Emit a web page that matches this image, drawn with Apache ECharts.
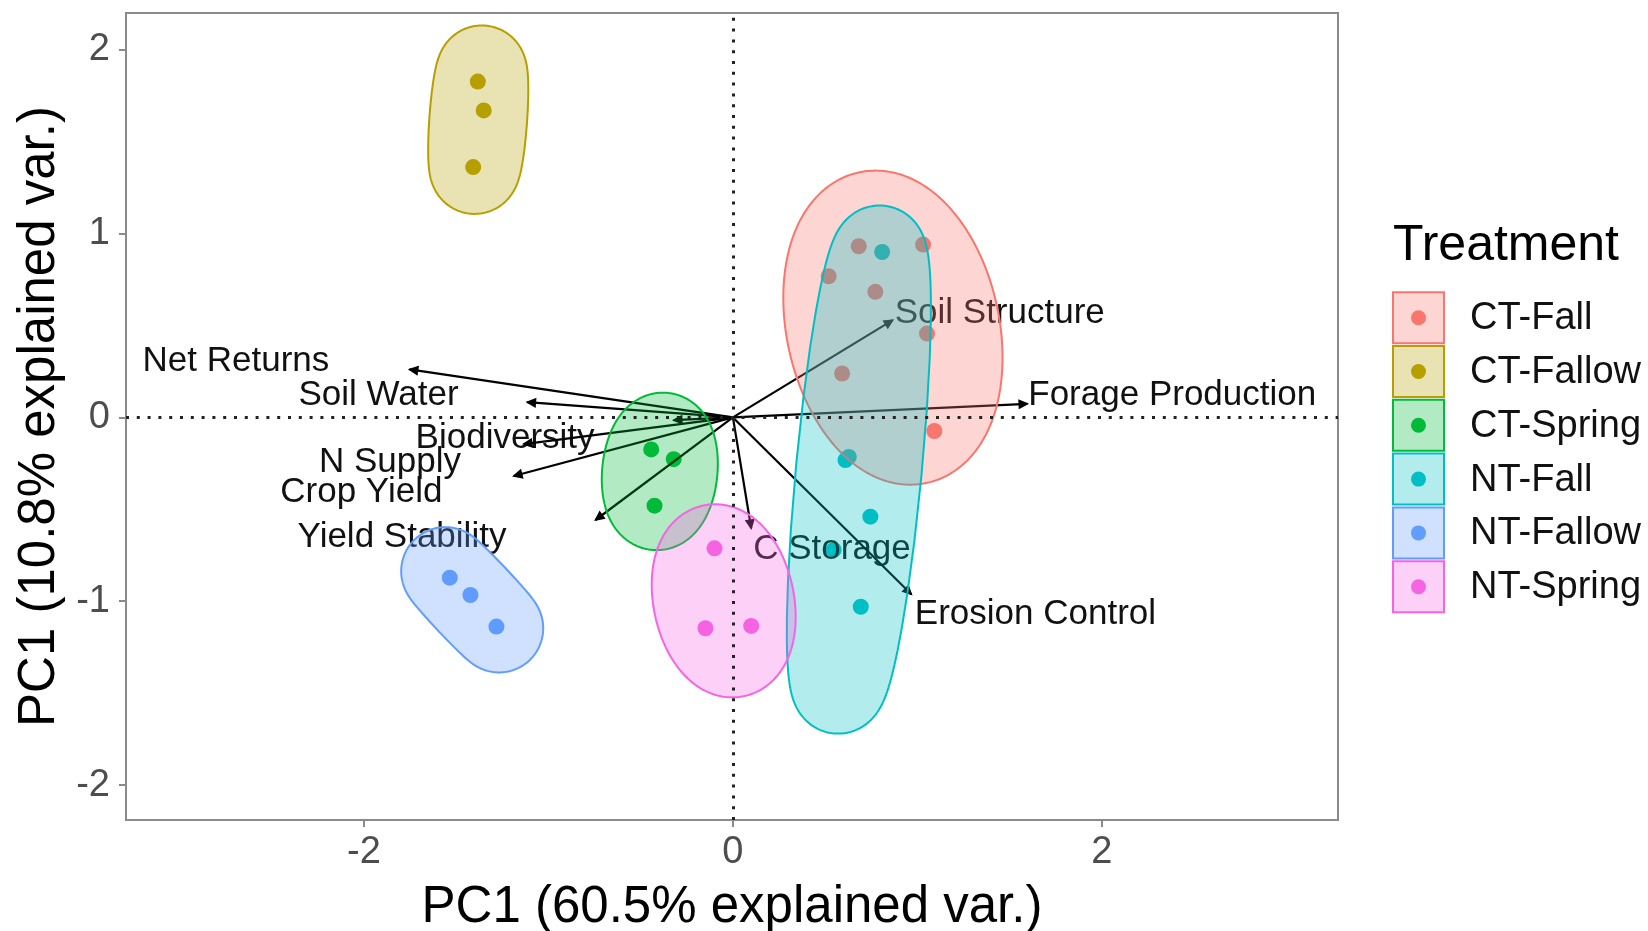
<!DOCTYPE html>
<html>
<head>
<meta charset="utf-8">
<script src="https://cdn.jsdelivr.net/npm/echarts@6/dist/echarts.min.js"></script>
<style>
  html, body { margin: 0; padding: 0; background: #ffffff; }
  #chart { width: 1648px; height: 931px; }
</style>
</head>
<body>
<div id="chart"></div>
<script>
// Treatments and their colours
const groups = ['CT-Fall', 'CT-Fallow', 'CT-Spring', 'NT-Fall', 'NT-Fallow', 'NT-Spring'];
const groupColors = ['#F8766D', '#B79F00', '#00BA38', '#00BFC4', '#619CFF', '#F564E3'];

// PCA scores (PC1, PC2) per treatment
const ctFall = [[0.682, 0.931], [1.031, 0.940], [0.519, 0.768], [0.772, 0.683], [1.052, 0.456], [0.592, 0.239], [1.092, -0.074]];
const ctFallow = [[-1.383, 1.827], [-1.351, 1.670], [-1.408, 1.362]];
const ctSpring = [[-0.443, -0.174], [-0.321, -0.227], [-0.425, -0.480]];
const ntFall = [[0.809, 0.900], [0.610, -0.232], [0.628, -0.215], [0.745, -0.540], [0.546, -0.721], [0.693, -1.030]];
const ntFallow = [[-1.535, -0.872], [-1.423, -0.966], [-1.282, -1.138]];
const ntSpring = [[-0.100, -0.712], [-0.149, -1.147], [0.099, -1.134]];
const groupScores = [ctFall, ctFallow, ctSpring, ntFall, ntFallow, ntSpring];

// Variable loadings (arrow tips) and where their names sit
const loadingNames = ['Net Returns', 'Soil Water', 'Biodiversity', 'N Supply', 'Crop Yield', 'Yield Stability',
                      'C Storage', 'Soil Structure', 'Forage Production', 'Erosion Control'];
const loadingX = [-1.753, -1.115, -0.321, -1.134, -1.188, -0.745, 0.099, 0.866, 1.596, 0.967];
const loadingY = [0.261, 0.083, -0.015, -0.145, -0.319, -0.558, -0.603, 0.529, 0.074, -0.962];
const labelX = [-2.188, -1.487, -0.750, -1.474, -1.575, -1.228, 0.110, 0.877, 1.601, 0.986];
const labelY = [0.314, 0.131, -0.104, -0.233, -0.398, -0.643, -0.706, 0.577, 0.131, -1.063];

// Axis ticks
const xTicks = [-2, 0, 2];
const yTicks = [-2, -1, 0, 1, 2];

const FONT = '"Liberation Sans", Arial, Helvetica, sans-serif';

function hexToRgba(hex, a) {
  const n = parseInt(hex.slice(1), 16);
  return 'rgba(' + ((n >> 16) & 255) + ',' + ((n >> 8) & 255) + ',' + (n & 255) + ',' + a + ')';
}

// Minimum-area enclosing ellipse (Khachiyan), returns centre, semi-axes and angle
function enclosingEllipse(pts) {
  const n = pts.length;
  let mx = 0, my = 0;
  pts.forEach(p => { mx += p[0] / n; my += p[1] / n; });
  const P = pts.map(p => [p[0] - mx, p[1] - my]);
  let u = new Array(n).fill(1 / n);
  function inv3(m) {
    const [a, b, c] = m[0], [d, e, f] = m[1], [g, h, i] = m[2];
    const A = e * i - f * h, B = -(d * i - f * g), C = d * h - e * g;
    const det = a * A + b * B + c * C;
    return [
      [A / det, -(b * i - c * h) / det, (b * f - c * e) / det],
      [B / det, (a * i - c * g) / det, -(a * f - c * d) / det],
      [C / det, -(a * h - b * g) / det, (a * e - b * d) / det]
    ];
  }
  for (let it = 0; it < 20000; it++) {
    const X = [[0, 0, 0], [0, 0, 0], [0, 0, 0]];
    for (let k = 0; k < n; k++) {
      const q = [P[k][0], P[k][1], 1];
      for (let a = 0; a < 3; a++) for (let b = 0; b < 3; b++) X[a][b] += u[k] * q[a] * q[b];
    }
    const Xi = inv3(X);
    let jMax = 0, mMax = -Infinity;
    for (let k = 0; k < n; k++) {
      const q = [P[k][0], P[k][1], 1];
      let m = 0;
      for (let a = 0; a < 3; a++) for (let b = 0; b < 3; b++) m += q[a] * Xi[a][b] * q[b];
      if (m > mMax) { mMax = m; jMax = k; }
    }
    const step = (mMax - 3) / (3 * (mMax - 1));
    if (step < 1e-10) break;
    u = u.map(v => v * (1 - step));
    u[jMax] += step;
  }
  let cx = 0, cy = 0;
  for (let k = 0; k < n; k++) { cx += u[k] * P[k][0]; cy += u[k] * P[k][1]; }
  let sxx = 0, sxy = 0, syy = 0;
  for (let k = 0; k < n; k++) {
    sxx += u[k] * P[k][0] * P[k][0];
    sxy += u[k] * P[k][0] * P[k][1];
    syy += u[k] * P[k][1] * P[k][1];
  }
  sxx -= cx * cx; sxy -= cx * cy; syy -= cy * cy;
  const mean = (sxx + syy) / 2;
  const diff = Math.sqrt(((sxx - syy) / 2) ** 2 + sxy * sxy);
  const s1 = mean + diff, s2 = Math.max(mean - diff, 1e-9);
  const theta = 0.5 * Math.atan2(2 * sxy, sxx - syy);
  let a = Math.sqrt(2 * s1), b = Math.sqrt(2 * s2);
  // make sure every point lies inside
  const ct = Math.cos(theta), st = Math.sin(theta);
  let worst = 1;
  P.forEach(p => {
    const dx = p[0] - cx, dy = p[1] - cy;
    const lx = dx * ct + dy * st, ly = -dx * st + dy * ct;
    worst = Math.max(worst, Math.sqrt((lx / a) ** 2 + (ly / b) ** 2));
  });
  a *= worst; b *= worst;
  return { cx: cx + mx, cy: cy + my, a: a, b: b, theta: theta };
}

// Ellipse grown outward by a fixed margin; sampled by normal direction so ends stay smooth
function expandedOutline(e, margin) {
  const out = [];
  const ct = Math.cos(e.theta), st = Math.sin(e.theta);
  const N = 240;
  const a2 = e.a * e.a, b2 = e.b * e.b;
  for (let k = 0; k < N; k++) {
    const phi = 2 * Math.PI * k / N;
    const c = Math.cos(phi), s = Math.sin(phi);
    const d = Math.sqrt(a2 * c * c + b2 * s * s) || 1;
    const px = a2 * c / d + margin * c;
    const py = b2 * s / d + margin * s;
    out.push([e.cx + px * ct - py * st, e.cy + px * st + py * ct]);
  }
  return out;
}

const chart = echarts.init(document.getElementById('chart'), null, { renderer: 'canvas' });

const scatterSeries = groups.map((g, i) => ({
  name: g,
  type: 'scatter',
  data: groupScores[i],
  symbolSize: 16,
  itemStyle: { color: groupColors[i], opacity: 1 },
  z: 2,
  silent: true,
  animation: false
}));

// Loading arrows with their names
const arrowSeries = {
  type: 'custom',
  coordinateSystem: 'cartesian2d',
  data: loadingNames.map((nm, i) => [loadingX[i], loadingY[i], labelX[i], labelY[i]]),
  z: 3,
  silent: true,
  animation: false,
  renderItem: function (params, api) {
    const i = params.dataIndex;
    const o = api.coord([0, 0]);
    const tip = api.coord([api.value(0), api.value(1)]);
    const lab = api.coord([api.value(2), api.value(3)]);
    const ang = Math.atan2(tip[1] - o[1], tip[0] - o[0]);
    const hl = 9, ha = Math.PI / 7;
    const h1 = [tip[0] - hl * Math.cos(ang - ha), tip[1] - hl * Math.sin(ang - ha)];
    const h2 = [tip[0] - hl * Math.cos(ang + ha), tip[1] - hl * Math.sin(ang + ha)];
    const isLeft = api.value(0) < 0;
    return {
      type: 'group',
      children: [
        { type: 'line', shape: { x1: o[0], y1: o[1], x2: tip[0], y2: tip[1] },
          style: { stroke: '#000', lineWidth: 2.2 } },
        { type: 'polygon', shape: { points: [h1, tip, h2] },
          style: { stroke: '#000', lineWidth: 1.5, fill: '#000' } },
        { type: 'text', x: lab[0], y: lab[1] + 2,
          style: { text: loadingNames[i], fill: '#111', font: '35px ' + FONT,
                   align: isLeft ? 'right' : 'left', verticalAlign: 'middle' } }
      ]
    };
  }
};

// Ellipse marks around each treatment
const ellipseSeries = {
  type: 'custom',
  coordinateSystem: 'cartesian2d',
  data: groups.map((g, i) => [groupScores[i][0][0], groupScores[i][0][1]]),
  z: 4,
  silent: true,
  animation: false,
  renderItem: function (params, api) {
    const gi = params.dataIndex;
    const px = groupScores[gi].map(p => api.coord(p));
    const e = enclosingEllipse(px);
    const poly = expandedOutline(e, 44);
    return {
      type: 'polygon',
      shape: { points: poly },
      style: { fill: hexToRgba(groupColors[gi], 0.3), stroke: groupColors[gi], lineWidth: 2 }
    };
  }
};

// Dotted reference lines through the origin
const refSeries = {
  type: 'line',
  data: [],
  z: 1,
  silent: true,
  animation: false,
  markLine: {
    silent: true,
    symbol: ['none', 'none'],
    label: { show: false },
    lineStyle: { color: '#222', width: 3, type: [3, 7.8] },
    data: [{ xAxis: 0 }, { yAxis: 0 }],
    animation: false
  }
};

// Legend drawn as keys with a filled box and a dot
const legendX = 1393, keySize = 51, keyTop = 317.7, keyStep = 53.8;
const legendGraphic = [{
  type: 'text', x: legendX, y: 246,
  style: { text: 'Treatment', font: '50px ' + FONT, fill: '#000', align: 'left', verticalAlign: 'middle' }
}];
groups.forEach((g, i) => {
  const cy = keyTop + i * keyStep;
  legendGraphic.push({
    type: 'rect',
    shape: { x: legendX, y: cy - keySize / 2, width: keySize, height: keySize },
    style: { fill: hexToRgba(groupColors[i], 0.3), stroke: groupColors[i], lineWidth: 2 }
  });
  legendGraphic.push({
    type: 'circle',
    shape: { cx: legendX + keySize / 2, cy: cy, r: 7.5 },
    style: { fill: groupColors[i] }
  });
  legendGraphic.push({
    type: 'text', x: 1470, y: cy + 1,
    style: { text: g, font: '38px ' + FONT, fill: '#111', align: 'left', verticalAlign: 'middle' }
  });
});

const option = {
  backgroundColor: '#ffffff',
  animation: false,
  grid: {
    left: 126, right: 310, top: 13, bottom: 111,
    containLabel: false, outerBoundsMode: 'none',
    show: true, borderColor: '#8a8a8a', borderWidth: 2, backgroundColor: 'transparent'
  },
  xAxis: {
    type: 'value', min: -3.29, max: 3.28,
    axisLine: { show: false, onZero: false },
    splitLine: { show: false },
    axisTick: { show: true, customValues: xTicks, length: 7, lineStyle: { color: '#8a8a8a', width: 2 } },
    axisLabel: { customValues: xTicks, fontSize: 38, fontFamily: FONT, color: '#4d4d4d', margin: 14 },
    name: 'PC1 (60.5% explained var.)', nameLocation: 'middle', nameGap: 62,
    nameTextStyle: { fontSize: 51, fontFamily: FONT, color: '#000' }
  },
  yAxis: {
    type: 'value', min: -2.19, max: 2.2,
    axisLine: { show: false, onZero: false },
    splitLine: { show: false },
    axisTick: { show: true, customValues: yTicks, length: 7, lineStyle: { color: '#8a8a8a', width: 2 } },
    axisLabel: { customValues: yTicks, fontSize: 38, fontFamily: FONT, color: '#4d4d4d', margin: 16 },
    name: 'PC1 (10.8% explained var.)', nameLocation: 'middle', nameGap: 58,
    nameTextStyle: { fontSize: 51, fontFamily: FONT, color: '#000' }
  },
  graphic: legendGraphic,
  series: [refSeries].concat(scatterSeries, [arrowSeries, ellipseSeries])
};

chart.setOption(option);
</script>
</body>
</html>
